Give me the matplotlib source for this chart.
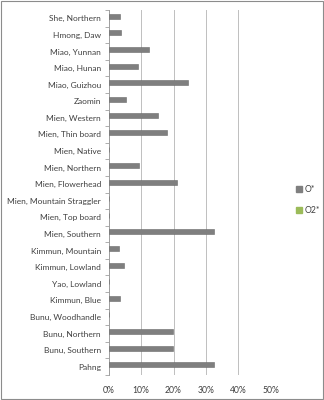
import numpy as np
import matplotlib.pyplot as plt
from matplotlib.patches import Patch

plt.rcParams['font.family'] = ['Lato', 'DejaVu Sans']

# categories listed top to bottom as in the chart
groups = ['She, Northern', 'Hmong, Daw', 'Miao, Yunnan', 'Miao, Hunan', 'Miao, Guizhou',
          'Zaomin', 'Mien, Western', 'Mien, Thin board', 'Mien, Native', 'Mien, Northern',
          'Mien, Flowerhead', 'Mien, Mountain Straggler', 'Mien, Top board', 'Mien, Southern',
          'Kimmun, Mountain', 'Kimmun, Lowland', 'Yao, Lowland', 'Kimmun, Blue',
          'Bunu, Woodhandle', 'Bunu, Northern', 'Bunu, Southern', 'Pahng']
o_star = [3.5, 3.9, 12.4, 9.0, 24.6, 5.4, 15.1, 18.1, 0, 9.2, 21.1, 0, 0, 32.4,
          3.2, 4.8, 0, 3.5, 0, 19.9, 19.9, 32.4]
o2_star = [0] * len(groups)
xticks = [0, 10, 20, 30, 40, 50]

fig = plt.figure(figsize=(3.24, 4.0), dpi=100)
ax = fig.add_axes([0.3355, 0.0625, 0.5, 0.9125])

y = np.arange(len(groups))
ax.barh(y - 0.12, o_star, height=0.3, color='#7f7f7f', edgecolor='#6a6a6a', linewidth=0.4, zorder=3)
ax.barh(y + 0.18, o2_star, height=0.3, color='#9bbb59', zorder=3)

ax.set_ylim(len(groups) - 0.5, -0.5)
ax.set_xlim(0, 50)
ax.set_yticks(y)
ax.set_yticklabels(groups, fontsize=6.0, color='#404040')
ax.set_yticks(np.arange(len(groups) + 1) - 0.5, minor=True)
ax.tick_params(axis='y', which='major', length=0, pad=5.5)
ax.tick_params(axis='y', which='minor', length=3, color='#a0a0a0', width=0.6)
ax.set_xticks(xticks)
ax.set_xticklabels([f'{t}%' for t in xticks], fontsize=6.2, color='#404040')
ax.tick_params(axis='x', length=0, pad=8)
ax.grid(axis='x', color='#bfbfbf', linewidth=0.7, zorder=0)
for s in ['top', 'right', 'bottom']:
    ax.spines[s].set_visible(False)
ax.spines['left'].set_color('#a0a0a0')
ax.spines['left'].set_linewidth(0.7)

handles = [Patch(color='#7f7f7f', label='O*'), Patch(color='#9bbb59', label='O2*')]
fig.legend(handles=handles, loc='center left', bbox_to_anchor=(0.89, 0.5), frameon=False,
           fontsize=6.2, handlelength=0.7, handleheight=0.7, handletextpad=0.3,
           labelspacing=1.4, labelcolor='#404040')

fig.patches.append(plt.Rectangle((0.002, 0.002), 0.995, 0.995, transform=fig.transFigure,
                                 fill=False, edgecolor='#8c8c8c', linewidth=0.8))
fig.savefig('out.png', dpi=100)
